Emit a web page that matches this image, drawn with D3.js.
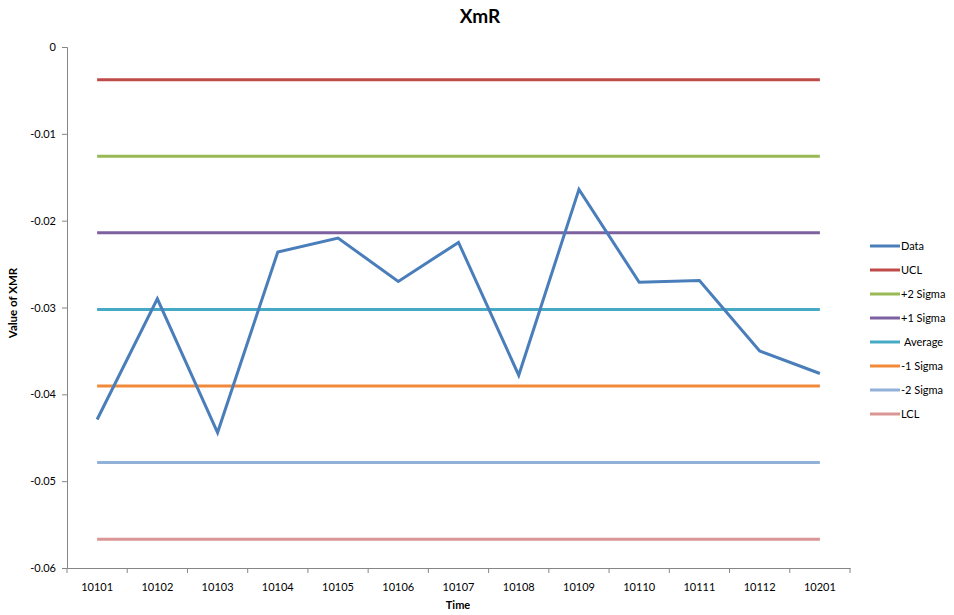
<!DOCTYPE html>
<html><head><meta charset="utf-8">
<script src="https://cdn.jsdelivr.net/npm/d3@7"></script>
<style>body{margin:0;background:#fff}svg{display:block}text{font-family:Lato,"Open Sans",sans-serif}</style>
</head><body><svg id="c" width="954" height="615"></svg>
<script>
const categories = ["10101","10102","10103","10104","10105","10106","10107","10108","10109","10110","10111","10112","10201"];
const dataValues = [-0.0429,-0.0290,-0.0444,-0.0236,-0.0220,-0.0270,-0.0225,-0.0378,-0.0164,-0.0271,-0.0269,-0.0350,-0.0376];
const limitNames = ["UCL","+2 Sigma","+1 Sigma","Average","-1 Sigma","-2 Sigma","LCL"];
const limitValues = [-0.00376,-0.01258,-0.02140,-0.03022,-0.03904,-0.04786,-0.05668];
const yTicks = [0,-0.01,-0.02,-0.03,-0.04,-0.05,-0.06];
const yTickLabels = ["0","-0.01","-0.02","-0.03","-0.04","-0.05","-0.06"];
const seriesNames = ["Data"].concat(limitNames);
const seriesColors = ["#4A7EBB","#BE4B48","#98B954","#7D60A0","#46AAC5","#F08A3A","#92B1D8","#D99694"];

const svg = d3.select("#c");
const pLeft=67, pRight=850, pTop=47, pBottom=568;
const x = d3.scaleBand().domain(categories).range([pLeft,pRight]);
const y = d3.scaleLinear().domain([-0.06,0]).range([pBottom,pTop]);
const axisColor = "#868686";

// y axis
const ya = svg.append("g").attr("transform",`translate(${pLeft},0)`)
  .call(d3.axisLeft(y).tickValues(yTicks).tickSize(5).tickPadding(6).tickFormat((d,i)=>yTickLabels[i]));
ya.select(".domain").attr("stroke",axisColor);
ya.selectAll(".tick line").attr("stroke",axisColor);
ya.selectAll("text").attr("font-size",11).attr("fill","#000");

// x axis
const xa = svg.append("g").attr("transform",`translate(0,${pBottom})`)
  .call(d3.axisBottom(x).tickSize(0).tickPadding(15));
xa.select(".domain").attr("stroke",axisColor);
xa.selectAll("text").attr("font-size",11).attr("fill","#000");
const bounds = categories.map(c=>x(c)).concat([pRight]);
svg.append("g").selectAll("line").data(bounds).join("line")
  .attr("x1",d=>d).attr("x2",d=>d).attr("y1",pBottom).attr("y2",pBottom+5).attr("stroke",axisColor);

const cx = c=>x(c)+x.bandwidth()/2;

// limit lines
limitValues.forEach((v,i)=>{
  svg.append("path")
    .attr("d",d3.line()([[cx(categories[0]),y(v)],[cx(categories[categories.length-1]),y(v)]]))
    .attr("stroke",seriesColors[i+1]).attr("stroke-width",3).attr("fill","none");
});

// data line
svg.append("path").datum(dataValues)
  .attr("d",d3.line().x((d,i)=>cx(categories[i])).y(d=>y(d)))
  .attr("stroke",seriesColors[0]).attr("stroke-width",3).attr("fill","none");

// titles
svg.append("text").attr("x",480).attr("y",23).attr("text-anchor","middle")
  .attr("font-size",19).attr("font-weight","bold").text("XmR");
svg.append("text").attr("x",458).attr("y",609).attr("text-anchor","middle")
  .attr("font-size",11).attr("font-weight","bold").text("Time");
svg.append("text").attr("transform","translate(17,303) rotate(-90)").attr("text-anchor","middle")
  .attr("font-size",11.5).attr("font-weight","bold").text("Value of XMR");

// legend
const lg = svg.append("g");
seriesNames.forEach((n,i)=>{
  const yy = 246 + i*24;
  lg.append("line").attr("x1",870).attr("x2",900).attr("y1",yy).attr("y2",yy)
    .attr("stroke",seriesColors[i]).attr("stroke-width",3);
  lg.append("text").attr("x",n==="Average"?904:901).attr("y",yy+4).attr("font-size",11).text(n);
});
</script></body></html>
